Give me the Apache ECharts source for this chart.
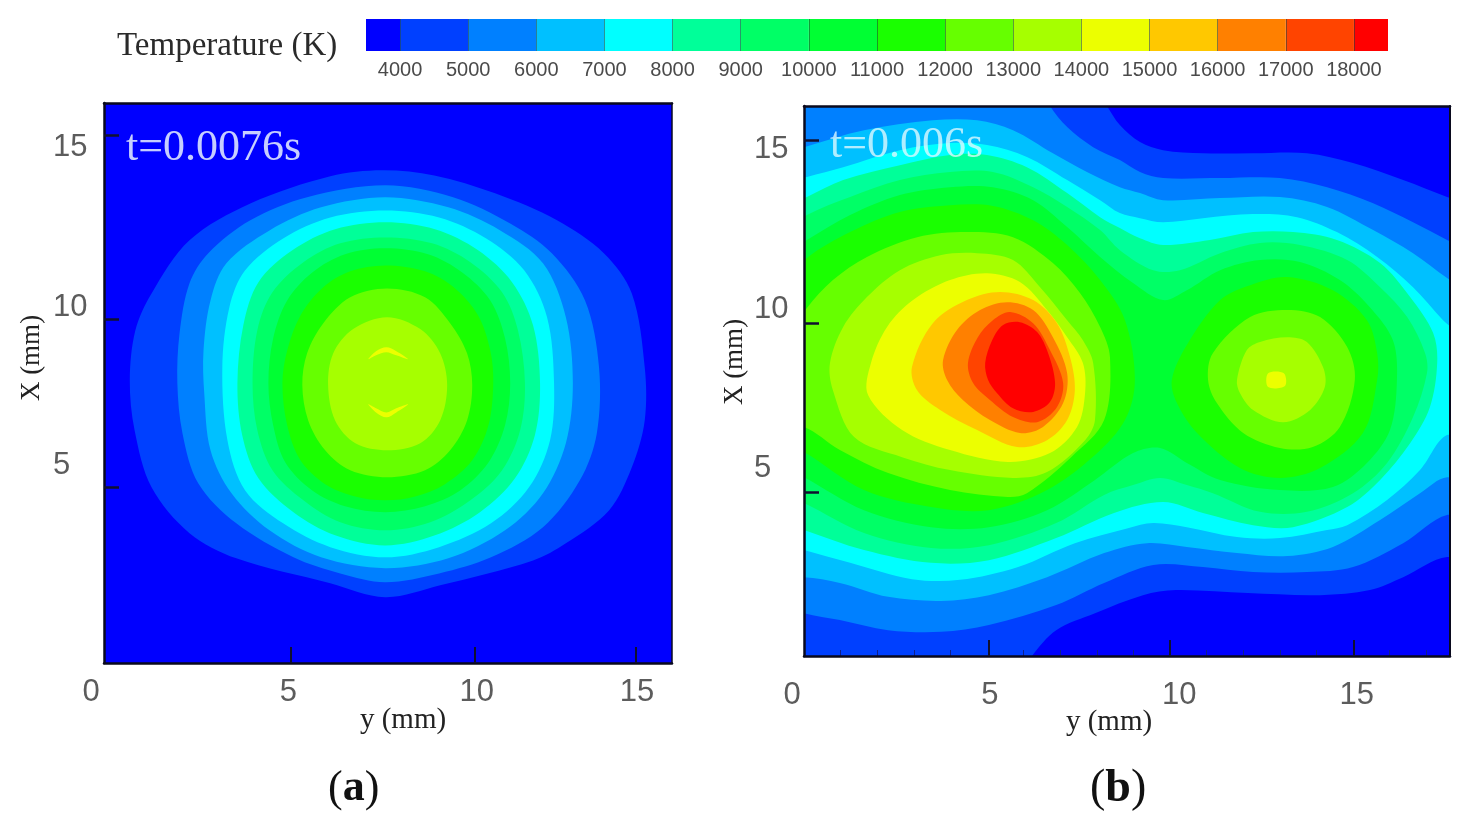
<!DOCTYPE html>
<html>
<head>
<meta charset="utf-8">
<style>html,body{margin:0;padding:0;background:#fff}#c{width:1473px;height:822px;filter:blur(0.7px)}</style>
<script src="https://cdn.jsdelivr.net/npm/echarts@6/dist/echarts.min.js"></script>
</head>
<body>
<div id="c"></div>
<script>
// Colour scale
const levels = [3500,4000,5000,6000,7000,8000,9000,10000,11000,12000,13000,14000,15000,16000,17000,18000,18500];
const bandColors = ['#0000ff','#0040ff','#0080ff','#00c0ff','#00ffff','#00ff99','#00ff66','#00ff33','#1aff00','#66ff00','#a6ff00','#ecff00','#ffc800','#ff8000','#ff4400','#ff0000'];
const barLabels = [4000,5000,6000,7000,8000,9000,10000,11000,12000,13000,14000,15000,16000,17000,18000];

// Axis ticks and tick labels (mm)
const aXTicks = [5.08,10.07,14.43], aXLabelAt = [0,5.0,10.11,14.46], xLabels = ['0','5','10','15'];
const aYTicks = [5.02,9.82,15.08], aYLabelAt = [5.65,10.16,14.73], yLabels = ['5','10','15'];
const bXTicks = [5.05,10,15.03], bXLabelAt = [0,5.08,10.25,15.1];
const bYTicks = [4.83,9.79,15.16], bYLabelAt = [5.53,10.2,14.91];
const bXMinor = [1,2,3,4,6,7,8,9,11,12,13,14,16,17];

// Panel (a): contour outlines [y mm, X mm]
const a4000 = [[7.55,14.08],[8.96,13.93],[10.61,13.42],[12.29,12.65],[13.56,11.71],[14.32,10.56],[14.67,8.45],[14.67,6.93],[14.32,5.59],[13.7,4.36],[12.53,3.42],[11.64,2.93],[9.12,2.22],[7.63,1.88],[6.14,2.28],[3.59,2.99],[2.32,3.71],[1.29,5.02],[0.83,6.65],[0.7,8.08],[0.85,9.5],[1.29,10.56],[2.32,12.08],[3.97,13.13],[6.14,13.91]];
const a5000 = [[7.63,13.65],[9.47,13.31],[11.02,12.56],[12.15,11.71],[13.05,10.36],[13.43,8.45],[13.37,6.56],[12.91,5.22],[11.91,3.88],[10.5,3.02],[9.09,2.56],[7.63,2.31],[6.41,2.56],[5.14,3.02],[3.59,3.99],[2.56,5.13],[2.13,6.56],[1.99,7.99],[2.05,9.42],[2.32,10.85],[2.83,11.71],[3.97,12.65],[5.51,13.31]];
const a6000 = [[7.63,13.31],[9.34,13.02],[10.75,12.36],[11.91,11.42],[12.53,9.88],[12.72,7.99],[12.53,6.28],[11.91,4.85],[10.88,3.79],[9.34,2.99],[7.63,2.71],[5.89,3.02],[4.49,3.79],[3.46,4.85],[2.89,6.08],[2.72,7.71],[2.7,8.93],[2.89,10.36],[3.32,11.42],[4.49,12.36],[5.89,13.02]];
const a7000 = [[7.63,12.93],[9.09,12.73],[10.37,12.13],[11.4,11.22],[12.02,9.88],[12.21,7.99],[12.1,6.36],[11.53,5.02],[10.5,3.99],[9.09,3.31],[7.63,3.02],[6.14,3.31],[4.86,3.99],[3.83,4.93],[3.35,6.36],[3.21,8.45],[3.4,10.16],[3.83,11.22],[4.86,12.13],[6.14,12.73]];
const a8000 = [[7.63,12.59],[8.98,12.39],[10.15,11.79],[11.07,10.88],[11.64,9.65],[11.83,7.99],[11.69,6.51],[11.15,5.28],[10.2,4.31],[8.98,3.65],[7.63,3.36],[6.27,3.65],[5.14,4.31],[4.19,5.28],[3.75,6.51],[3.62,7.99],[3.78,9.65],[4.19,10.88],[5.11,11.79],[6.27,12.39]];
const a9000 = [[7.63,12.16],[8.9,11.99],[9.94,11.45],[10.8,10.59],[11.23,9.51],[11.42,7.99],[11.29,6.65],[10.8,5.51],[9.94,4.65],[8.85,4.02],[7.63,3.79],[6.41,4.02],[5.41,4.65],[4.57,5.51],[4.16,6.65],[4.03,7.99],[4.16,9.51],[4.57,10.59],[5.41,11.45],[6.41,11.99]];
const a10000 = [[7.63,11.85],[8.79,11.68],[9.72,11.16],[10.48,10.36],[10.88,9.28],[11.02,7.99],[10.88,6.79],[10.43,5.73],[9.66,4.93],[8.71,4.48],[7.63,4.31],[6.54,4.48],[5.65,4.93],[4.92,5.73],[4.59,6.79],[4.46,7.99],[4.59,9.28],[4.97,10.36],[5.65,11.16],[6.54,11.68]];
const a11000 = [[7.63,11.36],[8.71,11.19],[9.52,10.71],[10.15,9.93],[10.48,8.93],[10.56,7.99],[10.43,6.79],[9.99,5.79],[9.25,5.11],[8.44,4.76],[7.63,4.65],[6.82,4.76],[6.0,5.11],[5.33,5.79],[4.97,6.79],[4.84,7.99],[4.97,8.93],[5.33,9.93],[5.92,10.71],[6.68,11.19]];
const a12000 = [[7.68,10.7],[8.71,10.45],[9.39,9.71],[9.85,8.85],[9.99,7.94],[9.85,6.93],[9.39,6.08],[8.71,5.51],[7.68,5.31],[6.68,5.51],[6.0,6.08],[5.54,6.93],[5.38,7.94],[5.51,8.85],[5.95,9.71],[6.68,10.45]];
const a13000 = [[7.68,9.88],[8.58,9.54],[9.12,8.85],[9.31,7.94],[9.12,6.93],[8.58,6.28],[7.68,6.08],[6.82,6.28],[6.27,6.93],[6.08,7.94],[6.22,8.85],[6.76,9.54]];
const a14000up = [[7.17,8.68],[7.38,8.91],[7.66,9.02],[7.93,8.91],[8.25,8.68],[7.93,8.79],[7.66,8.88],[7.38,8.79]];
const a14000lo = [[7.17,7.39],[7.38,7.16],[7.66,7.02],[7.93,7.16],[8.25,7.39],[7.93,7.28],[7.66,7.16],[7.38,7.28]];
const contoursA = [[4000,a4000],[5000,a5000],[6000,a6000],[7000,a7000],[8000,a8000],[9000,a9000],[10000,a10000],[11000,a11000],[12000,a12000],[13000,a13000],[14000,a14000up],[14000,a14000lo]];

// Panel (b): contour outlines [y mm, X mm]; points past the frame are clipped by the plot area
const b4000 = [[-0.5,16.7],[8.0,16.7],[8.28,16.18],[8.63,15.62],[9.18,15.12],[9.81,14.88],[10.9,14.79],[12.27,14.79],[13.74,14.79],[15.0,14.5],[16.37,14.0],[17.57,13.5],[18.3,13.2],[18.3,2.5],[17.57,2.91],[16.37,2.32],[15.46,1.94],[14.1,1.79],[12.13,1.85],[10.16,1.94],[9.26,1.79],[7.95,1.26],[6.89,0.76],[6.23,0],[6.0,-0.5],[-0.5,-0.5]];
const b5000 = [[-0.5,16.7],[6.5,16.7],[6.72,16.18],[7.19,15.56],[7.9,14.97],[8.63,14.59],[9.18,14.24],[9.81,14.06],[11.37,14.06],[13.0,14.06],[14.29,13.79],[15.55,13.32],[16.64,12.76],[17.57,12.24],[18.3,11.8],[18.3,3.8],[17.57,4.15],[16.37,3.32],[15.0,2.62],[13.74,2.47],[12.27,2.47],[10.9,2.62],[9.54,2.68],[8.2,2.15],[6.89,1.5],[5.05,0.91],[3.74,0.71],[2.3,0.76],[0.98,1.06],[0,1.26],[-0.5,1.5]];
const b6000 = [[-0.5,14.8],[0,14.97],[1.64,15.47],[3.52,15.76],[4.73,15.76],[5.71,15.47],[6.8,14.79],[7.73,14.24],[8.63,13.79],[9.18,13.62],[9.81,13.41],[11.37,13.47],[13.0,13.5],[14.29,13.21],[15.55,12.53],[16.64,11.85],[17.57,11.12],[18.3,10.6],[18.3,4.9],[17.57,5.26],[16.83,4.79],[15.74,4.0],[14.45,3.21],[13.2,2.94],[11.83,3.03],[10.46,3.21],[9.37,3.32],[8.2,3.03],[6.64,2.32],[5.05,1.79],[3.74,1.62],[2.3,1.74],[0.98,2.15],[0,2.32],[-0.5,2.2]];
const b7000 = [[-0.5,13.9],[0.08,14.09],[1.07,14.38],[2.62,14.88],[3.99,15.09],[5.0,15.03],[6.09,14.68],[7.19,14.0],[8.09,13.41],[8.63,13.03],[9.18,12.88],[9.81,12.76],[10.9,12.88],[12.27,13.0],[13.47,12.91],[14.56,12.47],[15.66,11.74],[16.64,10.85],[17.46,9.88],[18.3,9.0],[18.3,6.1],[17.57,6.5],[16.83,5.47],[15.93,4.59],[14.84,3.85],[14.29,3.71],[13.0,3.47],[11.83,3.5],[10.46,3.79],[9.54,3.91],[8.85,3.76],[7.4,3.32],[5.85,2.62],[4.26,2.24],[2.95,2.26],[1.26,2.74],[0,3.12],[-0.5,3.3]];
const b8000 = [[-0.5,13.2],[0.08,13.5],[1.07,14.0],[2.62,14.44],[3.99,14.74],[5.0,14.74],[6.09,14.38],[7.19,13.62],[8.09,12.91],[8.63,12.59],[9.18,12.29],[9.81,12.09],[11.09,12.24],[12.27,12.47],[13.36,12.47],[14.56,12.24],[15.74,11.56],[16.56,10.56],[17.19,9.5],[17.3,8.62],[17.1,7.32],[16.56,6.26],[15.74,5.18],[14.84,4.38],[13.36,3.79],[12.27,3.85],[10.9,4.21],[9.81,4.53],[8.47,4.21],[6.89,3.47],[5.05,2.82],[3.47,2.74],[1.64,3.12],[0,3.71],[-0.5,3.9]];
const b9000 = [[-0.5,12.5],[0.08,12.97],[1.26,13.5],[2.62,14.0],[3.99,14.24],[5.16,14.24],[6.26,13.79],[7.19,13.21],[8.09,12.53],[8.63,11.94],[9.54,11.35],[10.27,11.35],[11.37,11.85],[12.46,12.15],[13.55,12.09],[14.84,11.65],[15.74,10.85],[16.48,9.97],[16.97,8.91],[17.02,8.32],[16.64,7.03],[15.93,5.68],[15.0,4.79],[13.74,4.24],[12.46,4.24],[11.17,4.79],[10.46,5.03],[9.73,5.24],[8.99,5.03],[8.2,4.74],[6.89,3.91],[5.05,3.26],[3.47,3.18],[1.64,3.62],[0,4.5],[-0.5,4.7]];
const b10000 = [[-0.5,11.9],[0.08,12.24],[1.26,12.97],[2.62,13.56],[3.99,13.79],[5.16,13.79],[6.26,13.41],[7.19,12.62],[8.09,11.74],[8.99,10.97],[9.81,10.47],[10.46,10.76],[11.37,11.35],[12.46,11.65],[13.55,11.59],[14.64,11.06],[15.46,10.26],[16.09,9.29],[16.2,8.12],[16.01,6.65],[15.38,5.68],[14.45,4.97],[13.0,4.88],[11.37,5.18],[10.46,5.68],[9.73,6.12],[8.99,5.97],[7.95,5.18],[6.64,4.29],[5.05,3.79],[3.47,3.79],[1.64,4.29],[0,5.26],[-0.5,5.5]];
const b11000L = [[-0.5,11.0],[0.08,11.71],[1.26,12.47],[2.62,13.06],[3.99,13.26],[5.16,13.24],[6.26,12.82],[7.19,12.09],[8.09,11.06],[8.77,9.88],[9.04,8.12],[8.77,6.94],[7.95,5.91],[6.64,4.88],[5.05,4.29],[3.47,4.38],[1.64,4.88],[0,6.0],[-0.5,6.2]];
const b11000R = [[10.05,8.12],[10.46,9.15],[11.37,10.47],[12.19,10.91],[13.2,11.15],[14.45,10.76],[15.38,9.88],[15.66,8.91],[15.66,8.12],[15.27,6.56],[14.1,5.53],[13.0,5.24],[11.91,5.53],[10.74,6.56],[10.19,7.44]];
const b12000L = [[-0.5,9.3],[0.08,10.24],[0.79,11.06],[1.72,11.74],[3.09,12.32],[4.45,12.47],[5.71,12.32],[6.8,11.56],[7.54,10.68],[8.09,9.68],[8.36,8.79],[8.2,6.94],[7.3,5.85],[6.09,4.79],[5.57,4.68],[3.99,4.88],[2.3,5.38],[0.98,6.06],[0,6.74],[-0.5,6.6]];
const b12000R = [[11.04,8.12],[11.17,8.91],[12.19,9.97],[13.2,10.18],[14.1,9.97],[14.84,9.09],[15.05,8.12],[14.64,6.74],[13.9,6.15],[13.0,6.12],[12.0,6.56],[11.28,7.44]];
const b13000L = [[0.71,8.62],[1.07,9.68],[1.72,10.56],[2.62,11.35],[3.72,11.79],[4.73,11.85],[5.71,11.65],[6.45,10.85],[7.19,9.88],[7.62,9.29],[7.9,8.62],[7.95,6.94],[7.68,6.35],[6.64,5.41],[5.71,5.24],[3.99,5.47],[2.68,5.85],[1.37,6.44],[0.79,7.82]];
const b13000R = [[11.83,8.12],[12.1,9.0],[12.46,9.24],[13.2,9.38],[13.74,9.24],[14.18,8.5],[14.23,7.91],[13.83,7.24],[13.09,6.88],[12.27,7.24],[11.91,7.74]];
const b14000L = [[1.83,8.62],[2.27,9.68],[2.98,10.47],[3.99,11.06],[5.0,11.26],[5.9,11.0],[6.64,10.18],[7.19,9.38],[7.62,8.62],[7.68,7.74],[7.46,6.74],[6.72,5.97],[5.57,5.71],[3.99,6.06],[2.68,6.65],[1.75,7.68]];
const b14000R = [[12.68,8.32],[13.11,8.32],[13.14,7.94],[12.68,7.91]];
const b15000 = [[2.95,8.5],[3.52,9.79],[4.45,10.47],[5.36,10.71],[6.26,10.47],[6.91,9.79],[7.27,8.79],[7.4,7.82],[7.19,6.94],[6.64,6.35],[5.82,6.15],[4.73,6.65],[3.72,7.24],[3.09,7.82]];
const b16000 = [[3.8,8.71],[4.18,9.59],[4.81,10.18],[5.55,10.41],[6.26,10.18],[6.8,9.38],[7.19,8.32],[7.08,7.44],[6.53,6.74],[5.9,6.56],[5.08,6.94],[4.34,7.53],[3.91,8.12]];
const b17000 = [[4.48,8.62],[4.75,9.38],[5.16,9.88],[5.63,10.12],[6.26,9.79],[6.72,9.0],[7.08,8.03],[6.91,7.32],[6.37,6.88],[5.71,7.03],[5.08,7.53],[4.62,8.03]];
const b18000 = [[4.95,8.62],[5.14,9.29],[5.44,9.74],[5.9,9.82],[6.37,9.53],[6.67,8.91],[6.86,8.03],[6.72,7.47],[6.26,7.18],[5.71,7.29],[5.27,7.74],[5.03,8.12]];
const contoursB = [[4000,b4000],[5000,b5000],[6000,b6000],[7000,b7000],[8000,b8000],[9000,b9000],[10000,b10000],[11000,b11000L],[11000,b11000R],[12000,b12000L],[12000,b12000R],[13000,b13000L],[13000,b13000R],[14000,b14000L],[14000,b14000R],[15000,b15000],[16000,b16000],[17000,b17000],[18000,b18000]];

const SANS = '"Liberation Sans", Arial, sans-serif';
const SERIF = '"Liberation Serif", "Times New Roman", serif';
const TICKC = '#5c5c5c';

function pickLabel(positions, labels){
  return function(v){
    let best = 0;
    positions.forEach((p,i)=>{ if(Math.abs(p-v)<Math.abs(positions[best]-v)) best=i; });
    const s = labels[best];
    return s==='0' ? '{z|0}' : s;
  };
}
function mainX(idx,max,ticks,labelAt,margin,shift,namePad,nameGap){
  return {gridIndex:idx,type:'value',min:0,max:max,position:'bottom',z:5,splitLine:{show:false},
    axisLine:{show:true,onZero:false,lineStyle:{color:'#0a0a1e',width:2.5}},
    axisTick:{show:true,inside:true,length:16,customValues:ticks,lineStyle:{color:'#101030',width:2}},
    axisLabel:{show:true,margin:margin,customValues:labelAt,formatter:pickLabel(labelAt,xLabels),
      fontFamily:SANS,fontSize:31,color:TICKC,
      rich:{z:{fontFamily:SANS,fontSize:31,color:TICKC,padding:[0,shift,0,0]}}},
    name:'y (mm)',nameLocation:'middle',nameGap:nameGap,nameMoveOverlap:false,
    nameTextStyle:{fontFamily:SERIF,fontSize:29,color:'#222',verticalAlign:'middle',padding:namePad}};
}
function mainY(idx,max,ticks,labelAt,margin,namePad,nameGap){
  return {gridIndex:idx,type:'value',min:0,max:max,position:'left',z:5,splitLine:{show:false},
    axisLine:{show:true,onZero:false,lineStyle:{color:'#0a0a1e',width:2.5}},
    axisTick:{show:true,inside:true,length:15,customValues:ticks,lineStyle:{color:'#101030',width:2.5}},
    axisLabel:{show:true,margin:margin,align:'left',customValues:labelAt,formatter:pickLabel(labelAt,yLabels),
      fontFamily:SANS,fontSize:31,color:TICKC},
    name:'X (mm)',nameLocation:'middle',nameGap:nameGap,nameMoveOverlap:false,
    nameTextStyle:{fontFamily:SERIF,fontSize:27,color:'#222',verticalAlign:'middle',padding:namePad}};
}
function frame(idx,max,pos,w){
  const o={gridIndex:idx,type:'value',min:0,max:max,position:pos,z:5,splitLine:{show:false},
    axisTick:{show:false},axisLabel:{show:false},
    axisLine:{show:true,onZero:false,lineStyle:{color:'#0a0a1e',width:w}}};
  return o;
}
function contourSeries(contours,xi,yi){
  return {type:'custom',coordinateSystem:'cartesian2d',xAxisIndex:xi,yAxisIndex:yi,clip:true,silent:true,z:1,
    data:contours.map((c,i)=>[i]),
    encode:{x:[],y:[]},
    renderItem:function(params,api){
      const c=contours[params.dataIndex];
      return {type:'polygon',z2:params.dataIndex,silent:true,
        shape:{points:c[1].map(p=>api.coord(p)),smooth:0.33},
        style:{fill:bandColors[levels.indexOf(c[0])],stroke:null}};
    }};
}

const option = {
  animation:false,
  backgroundColor:'#fff',
  grid:[
    {left:104,top:103,width:568,height:560,show:true,backgroundColor:'#0000ff',borderWidth:0},
    {left:804,top:106,width:646,height:550,show:true,backgroundColor:'#0000ff',borderWidth:0},
    {left:366,top:19,width:1022,height:32}
  ],
  xAxis:[
    mainX(0,15.41,aXTicks,aXLabelAt,14,26,[0,0,0,30],57),
    frame(0,15.41,'top',2.5),
    mainX(1,17.65,bXTicks,bXLabelAt,24,24,[0,36,0,0],66),
    frame(1,17.65,'top',2.5),
    {gridIndex:1,type:'value',min:0,max:17.65,position:'bottom',z:4,splitLine:{show:false},axisLine:{show:false,onZero:false},
      axisLabel:{show:false},axisTick:{show:true,inside:true,length:6,customValues:bXMinor,lineStyle:{color:'#10208a',width:1}}},
    {gridIndex:2,type:'value',min:3500,max:18500,z:5,splitLine:{show:false},
      axisLine:{show:false,onZero:false},
      axisTick:{show:true,inside:true,length:32,customValues:barLabels,lineStyle:{color:'rgba(30,70,60,0.55)',width:1}},
      axisLabel:{show:true,margin:9,customValues:barLabels,formatter:v=>String(v),fontFamily:SANS,fontSize:20,color:'#4a4a4a'}}
  ],
  yAxis:[
    mainY(0,16,aYTicks,aYLabelAt,51,[0,0,0,50],72),
    frame(0,16,'right',1.5),
    mainY(1,16.18,bYTicks,bYLabelAt,50,[0,0,0,38],69),
    frame(1,16.18,'right',2),
    {gridIndex:2,type:'value',min:0,max:1,show:false}
  ],
  series:[
    contourSeries(contoursA,0,0),
    contourSeries(contoursB,2,2),
    {type:'custom',coordinateSystem:'cartesian2d',xAxisIndex:5,yAxisIndex:4,silent:true,z:1,
      data:bandColors.map((c,i)=>[levels[i],levels[i+1]]),
      encode:{x:[0,1],y:[]},
      renderItem:function(params,api){
        const p0=api.coord([api.value(0),1]),p1=api.coord([api.value(1),0]);
        return {type:'rect',shape:{x:p0[0],y:p0[1],width:p1[0]-p0[0],height:p1[1]-p0[1]},
          style:{fill:bandColors[params.dataIndex],stroke:null}};
      }}
  ],
  graphic:[
    {type:'text',left:117,top:30,z:20,style:{text:'Temperature (K)',font:'33px '+SERIF,fill:'#2a2a2a'}},
    {type:'text',left:126,top:126,z:20,style:{text:'t=0.0076s',font:'44px '+SERIF,fill:'rgba(225,235,255,0.88)'}},
    {type:'text',left:830,top:123,z:20,style:{text:'t=0.006s',font:'44px '+SERIF,fill:'rgba(225,250,255,0.78)'}},
    {type:'text',left:328,top:767,z:20,style:{text:'{n|(}{b|a}{n|)}',rich:{n:{font:'44px '+SERIF,fill:'#111'},b:{font:'bold 44px '+SERIF,fill:'#111'}}}},
    {type:'text',left:1090,top:766,z:20,style:{text:'{n|(}{b|b}{n|)}',rich:{n:{font:'46px '+SERIF,fill:'#111'},b:{font:'bold 46px '+SERIF,fill:'#111'}}}}
  ]
};
const chart = echarts.init(document.getElementById('c'),null,{renderer:'canvas'});
chart.setOption(option);
</script>
</body>
</html>
